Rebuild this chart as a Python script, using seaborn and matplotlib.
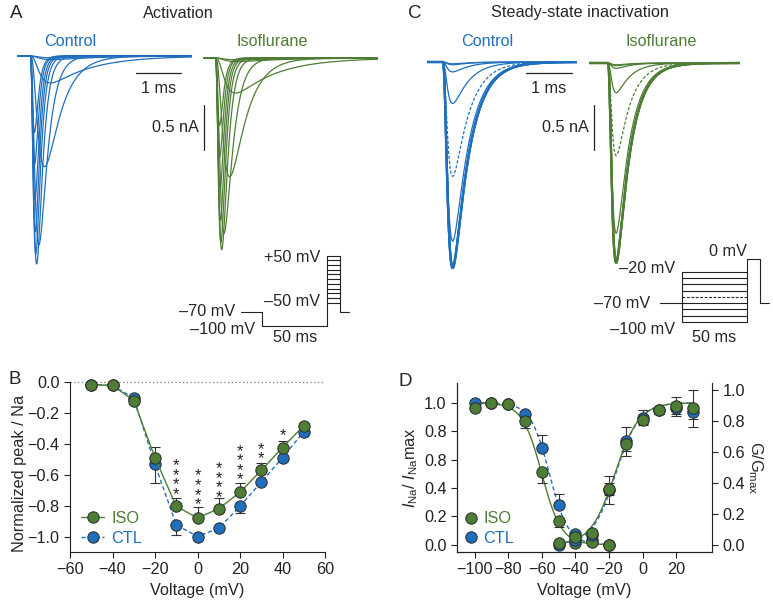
import numpy as np
import pandas as pd
import seaborn as sns
import matplotlib.pyplot as plt
from matplotlib.lines import Line2D

sns.set_style('ticks')
plt.rcParams['font.family'] = ['Liberation Sans', 'DejaVu Sans']
plt.rcParams['mathtext.fontset'] = 'custom'
plt.rcParams['mathtext.rm'] = 'Liberation Sans'
plt.rcParams['mathtext.it'] = 'Liberation Sans:italic'

FS = 11.7
W, H = 773, 600
BLUE = '#1f6fbd'
GREEN = '#4e7d35'
INK = '#222222'

# ---- B: normalized peak I-V (activation) ----
b_volt = [-50, -40, -30, -20, -10, 0, 10, 20, 30, 40, 50]
b_iso = [-0.017, -0.022, -0.12, -0.49, -0.804, -0.88, -0.82, -0.713, -0.572, -0.424, -0.283]
b_ctl = [-0.017, -0.022, -0.104, -0.533, -0.924, -1.0, -0.946, -0.804, -0.648, -0.489, -0.322]
b_iso_err = [0, 0, 0, 0.07, 0.055, 0.07, 0.068, 0.058, 0.048, 0.045, 0.02]
b_ctl_err = [0, 0, 0, 0.118, 0.065, 0.01, 0.02, 0.043, 0.02, 0.02, 0.01]
star_volt = [-10, 0, 10, 20, 30, 40]
star_count = [4, 4, 4, 4, 2, 1]
star_top = [-0.51, -0.576, -0.528, -0.415, -0.402, -0.315]

# ---- D: steady-state inactivation + activation ----
d_inact_volt = [-100, -90, -80, -70, -60, -50, -40, -30, -20]
d_inact_iso = [0.965, 1.0, 0.99, 0.87, 0.515, 0.17, 0.01, 0.02, 0.0]
d_inact_ctl = [1.0, 1.0, 0.99, 0.924, 0.68, 0.28, 0.078, 0.03, 0.0]
d_inact_iso_err = [0.01, 0, 0, 0.045, 0.08, 0.045, 0, 0, 0]
d_inact_ctl_err = [0.01, 0, 0, 0, 0.09, 0.075, 0, 0, 0]
d_act_volt = [-50, -40, -30, -20, -10, 0, 10, 20, 30]
d_act_iso = [0.01, 0.05, 0.078, 0.36, 0.65, 0.81, 0.87, 0.896, 0.885]
d_act_ctl = [0.0, 0.03, 0.06, 0.354, 0.67, 0.824, 0.87, 0.885, 0.857]
d_act_iso_err = [0, 0, 0, 0.04, 0.04, 0.03, 0.02, 0.06, 0.12]
d_act_ctl_err = [0, 0, 0, 0.09, 0.095, 0.05, 0.02, 0.04, 0.04]
# Boltzmann fits: (V1/2, k) and (V1/2, k, max)
fit_inact_iso = (-60.0, 5.8)
fit_inact_ctl = (-55.5, 5.6)
fit_act_iso = (-16.5, 7.2, 0.92)
fit_act_ctl = (-16.0, 7.0, 0.92)
d_left_ticklabels = ['0.0', '0.2', '0.4', '0.8', '0.8', '1.0']

# ---- A / C current traces (peak nA, tau_m ms, tau_h ms) ----
a_steps = [-50, -40, -30, -20, -10, 0, 10, 20, 30, 40, 50]
a_ctl_peak = [0.02, 0.04, 0.30, 1.23, 2.10, 2.31, 2.20, 1.95, 1.60, 1.20, 0.85]
a_iso_peak = [0.02, 0.04, 0.39, 1.32, 1.95, 2.13, 2.05, 1.80, 1.45, 1.10, 0.75]
a_tau_m = [0.15, 0.15, 0.15, 0.15, 0.10, 0.08, 0.07, 0.065, 0.06, 0.055, 0.05]
a_tau_h = [1.0, 1.0, 0.9, 0.35, 0.18, 0.12, 0.10, 0.09, 0.085, 0.08, 0.08]
c_steps = [-100, -90, -80, -70, -60, -50, -40, -30, -20]
c_ctl_peak = [2.29, 2.29, 2.27, 1.99, 1.27, 0.46, 0.11, 0.03, 0.02]
c_iso_peak = [2.22, 2.22, 2.20, 1.89, 1.03, 0.33, 0.06, 0.03, 0.02]
c_ctl_tau = (0.085, 0.35)
c_iso_tau = (0.07, 0.30)

fig = plt.figure(figsize=(W / 100, H / 100), dpi=100)


def px_axes(x0, y0, x1, y1):
    return fig.add_axes([x0 / W, 1 - y1 / H, (x1 - x0) / W, (y1 - y0) / H])


def ftext(x, y, s, **kw):
    kw.setdefault('fontsize', FS)
    kw.setdefault('va', 'center')
    fig.text(x / W, 1 - y / H, s, **kw)


def fline(xs, ys):
    fig.add_artist(Line2D([x / W for x in xs], [1 - y / H for y in ys],
                          transform=fig.transFigure, color=INK, lw=0.9))


PX_MS, PX_NA = 45.0, 90.0


def sodium_trace(t, onset, peak, tau_m, tau_h):
    s = np.clip(t - onset, 0, None)
    g = (1 - np.exp(-s / tau_m)) ** 3 * np.exp(-s / tau_h)
    return -peak * g / g.max()


def trace_panel(x0, x1, y0, y1, base_y, onset, peaks, tau_m, tau_h, color,
                dashed=None, thick=()):
    ax = px_axes(x0, y0, x1, y1)
    t = np.linspace(0, (x1 - x0) / PX_MS, 700)
    for i, pk in enumerate(peaks):
        cur = sodium_trace(t, onset, pk, tau_m[i], tau_h[i])
        ls = (0, (2.5, 1.5)) if i == dashed else '-'
        lw = 1.6 if i in thick else 0.9
        sns.lineplot(x=t, y=cur, ax=ax, color=color, lw=lw, linestyle=ls, sort=False)
    ax.set_xlim(0, (x1 - x0) / PX_MS)
    ax.set_ylim(-(y1 - base_y) / PX_NA, (base_y - y0) / PX_NA)
    ax.axis('off')
    return ax


# ---------- A traces ----------
trace_panel(17, 192, 45, 270, 56, 0.30, a_ctl_peak, a_tau_m, a_tau_h, BLUE)
trace_panel(203, 378, 45, 270, 58, 0.28, a_iso_peak, a_tau_m, a_tau_h, GREEN)
fline([136, 181], [73, 73])
fline([204, 204], [105, 150])
ftext(158.5, 88, '1 ms', ha='center')
ftext(199, 127, '0.5 nA', ha='right')

# ---------- C traces ----------
n_c = len(c_steps)
trace_panel(427, 577, 45, 280, 62, 0.35, c_ctl_peak, [c_ctl_tau[0]] * n_c,
            [c_ctl_tau[1]] * n_c, BLUE, dashed=4, thick=(0, 1, 2))
trace_panel(589, 740, 45, 280, 63, 0.42, c_iso_peak, [c_iso_tau[0]] * n_c,
            [c_iso_tau[1]] * n_c, GREEN, dashed=4, thick=(0, 1, 2))
fline([526, 572], [73, 73])
fline([594, 594], [105, 150])
ftext(549, 88, '1 ms', ha='center')
ftext(589, 127, '0.5 nA', ha='right')

# ---------- protocols ----------
pa = px_axes(225, 245, 355, 335)
pa.plot([0, 16, 16, 66, 66], [-70, -70, -100, -100, 50], color=INK, lw=0.8)
pa.plot([76, 76, 83], [50, -70, -70], color=INK, lw=0.8)
for v in a_steps:
    pa.plot([66, 76], [v, v], color=INK, lw=0.8)
pa.set_xlim(-12.3, 87.7)
pa.set_ylim(-118.9, 72.6)
pa.axis('off')
ftext(320, 258, '+50 mV', ha='right')
ftext(320, 301, '\u201350 mV', ha='right')
ftext(235, 312, '\u201370 mV', ha='right')
ftext(255, 329, '\u2013100 mV', ha='right')
ftext(295, 338, '50 ms', ha='center')

pc = px_axes(650, 250, 773, 330)
pc.plot([0, 17], [-70, -70], color=INK, lw=0.8)
pc.plot([17, 17], [-100, -20], color=INK, lw=0.8)
pc.plot([67, 67, 77, 77, 84], [-100, 0, 0, -70, -70], color=INK, lw=0.8)
for v in c_steps:
    pc.plot([17, 67], [v, v], color=INK, lw=0.8, ls=(0, (2.5, 1.5)) if v == -60 else '-')
pc.set_xlim(-7.7, 86.9)
pc.set_ylim(-113.2, 14.8)
pc.axis('off')
ftext(728, 252, '0 mV', ha='center')
ftext(675, 269, '\u201320 mV', ha='right')
ftext(650, 303, '\u201370 mV', ha='right')
ftext(675, 329, '\u2013100 mV', ha='right')
ftext(714, 337, '50 ms', ha='center')

# ---------- titles / letters ----------
ftext(10, 14, 'A', fontsize=13.5)
ftext(178, 13, 'Activation', ha='center')
ftext(70, 42, 'Control', ha='center', color=BLUE)
ftext(272, 42, 'Isoflurane', ha='center', color=GREEN)
ftext(408, 13, 'C', fontsize=13.5)
ftext(580, 13, 'Steady-state inactivation', ha='center')
ftext(487, 42, 'Control', ha='center', color=BLUE)
ftext(661, 42, 'Isoflurane', ha='center', color=GREEN)
ftext(8, 379, 'B', fontsize=13.5)
ftext(398, 382, 'D', fontsize=13.5)

mk = dict(marker='o', markersize=8.2, markeredgecolor='#2a2a2a', markeredgewidth=0.7)


def style_axis(ax):
    ax.tick_params(direction='out', length=4, width=0.8, labelsize=FS, colors=INK)
    for sp in ax.spines.values():
        sp.set_linewidth(0.8)
        sp.set_color(INK)


# ---------- B ----------
axb = px_axes(70, 382, 325, 552)
axb.axhline(0, color='#777777', lw=0.9, ls=(0, (1, 2)))
axb.errorbar(b_volt, b_ctl, yerr=[b_ctl_err, [0] * len(b_ctl_err)], fmt='none',
             ecolor='#333333', elinewidth=0.8, capsize=3.5, capthick=0.8)
axb.errorbar(b_volt, b_iso, yerr=[[0] * len(b_iso_err), b_iso_err], fmt='none',
             ecolor='#333333', elinewidth=0.8, capsize=3.5, capthick=0.8)
sns.lineplot(x=b_volt, y=b_ctl, ax=axb, color=BLUE, lw=1.0, linestyle=(0, (3, 2)),
             markerfacecolor=BLUE, **mk)
sns.lineplot(x=b_volt, y=b_iso, ax=axb, color=GREEN, lw=1.0, markerfacecolor=GREEN, **mk)
for ln in axb.lines:
    ln.set_clip_on(False)
# significance stars, one stacked column per voltage
for v, n, top in zip(star_volt, star_count, star_top):
    axb.text(v, top + 0.016, '\n'.join(['*'] * n), ha='center', va='top',
             fontsize=12, linespacing=0.55, color=INK)
axb.set_xlim(-60, 60)
axb.set_ylim(-1.1, 0)
axb.set_xticks([-60, -40, -20, 0, 20, 40, 60])
axb.set_yticks([0, -0.2, -0.4, -0.6, -0.8, -1.0])
axb.set_xlabel('Voltage (mV)', fontsize=FS, labelpad=4)
axb.set_ylabel('Normalized peak / Na', fontsize=FS, labelpad=3)
axb.yaxis.set_label_coords(-0.17, 0.46)
sns.despine(ax=axb)
style_axis(axb)
hb = [Line2D([], [], color=GREEN, lw=1.0, markerfacecolor=GREEN, **mk),
      Line2D([], [], color=BLUE, lw=1.0, ls=(0, (3, 2)), markerfacecolor=BLUE, **mk)]
axb.legend(hb, ['ISO', 'CTL'], loc='lower left', bbox_to_anchor=(0.045, 0.035),
           frameon=False, fontsize=FS, handlelength=1.4, handletextpad=0.45,
           labelspacing=0.3, borderpad=0, borderaxespad=0, labelcolor=[GREEN, BLUE])

# ---------- D ----------
axd = px_axes(457, 383, 712, 552)
axd2 = axd.twinx()


def boltz_inact(v, p):
    return 1 / (1 + np.exp((v - p[0]) / p[1]))


def boltz_act(v, p):
    return p[2] / (1 + np.exp(-(v - p[0]) / p[1]))


v_in = np.linspace(-100, -20, 200)
v_ac = np.linspace(-50, 30, 200)
sns.lineplot(x=v_in, y=boltz_inact(v_in, fit_inact_ctl), ax=axd, color=BLUE, lw=1.0,
             linestyle=(0, (3, 2)))
sns.lineplot(x=v_in, y=boltz_inact(v_in, fit_inact_iso), ax=axd, color=GREEN, lw=1.0)
axd.errorbar(d_inact_volt, d_inact_ctl, yerr=[[0] * 9, d_inact_ctl_err], fmt='none',
             ecolor='#333333', elinewidth=0.8, capsize=3.5, capthick=0.8)
axd.errorbar(d_inact_volt, d_inact_iso, yerr=[d_inact_iso_err, [0] * 9], fmt='none',
             ecolor='#333333', elinewidth=0.8, capsize=3.5, capthick=0.8)
sns.lineplot(x=d_inact_volt, y=d_inact_ctl, ax=axd, lw=0, markerfacecolor=BLUE, **mk)
sns.lineplot(x=d_inact_volt, y=d_inact_iso, ax=axd, lw=0, markerfacecolor=GREEN, **mk)

sns.lineplot(x=v_ac, y=boltz_act(v_ac, fit_act_ctl), ax=axd2, color=BLUE, lw=1.0,
             linestyle=(0, (3, 2)))
sns.lineplot(x=v_ac, y=boltz_act(v_ac, fit_act_iso), ax=axd2, color=GREEN, lw=1.0)
axd2.errorbar(d_act_volt, d_act_ctl, yerr=d_act_ctl_err, fmt='none',
              ecolor='#333333', elinewidth=0.8, capsize=3.5, capthick=0.8)
axd2.errorbar(d_act_volt, d_act_iso, yerr=d_act_iso_err, fmt='none',
              ecolor='#333333', elinewidth=0.8, capsize=3.5, capthick=0.8)
sns.lineplot(x=d_act_volt, y=d_act_ctl, ax=axd2, lw=0, markerfacecolor=BLUE, **mk)
sns.lineplot(x=d_act_volt, y=d_act_iso, ax=axd2, lw=0, markerfacecolor=GREEN, **mk)

axd.set_xlim(-110.5, 41.3)
axd.set_ylim(-0.052, 1.14)
axd2.set_ylim(-0.048, 1.048)
axd.set_xticks([-100, -80, -60, -40, -20, 0, 20])
axd.set_yticks([0, 0.2, 0.4, 0.6, 0.8, 1.0])
axd.set_yticklabels(d_left_ticklabels)
axd2.set_yticks([0, 0.2, 0.4, 0.6, 0.8, 1.0])
axd.set_xlabel('Voltage (mV)', fontsize=FS, labelpad=4)
axd.set_ylabel(r'$I_{\mathrm{Na}}$/ $I_{\mathrm{Na}}$max', fontsize=FS, labelpad=3)
axd2.set_ylabel(r'G/G$_{\mathrm{max}}$', fontsize=FS, rotation=270, labelpad=14)
axd.spines['top'].set_visible(False)
axd.spines['right'].set_visible(False)
axd2.spines['top'].set_visible(False)
style_axis(axd)
style_axis(axd2)
hd = [Line2D([], [], lw=0, markerfacecolor=GREEN, **mk),
      Line2D([], [], lw=0, markerfacecolor=BLUE, **mk)]
axd2.legend(hd, ['ISO', 'CTL'], loc='lower left', bbox_to_anchor=(0.03, 0.035),
            frameon=False, fontsize=FS, handlelength=0.8, handletextpad=0.35,
            labelspacing=0.3, borderpad=0, borderaxespad=0, labelcolor=[GREEN, BLUE])

fig.savefig('out.png', dpi=100)
